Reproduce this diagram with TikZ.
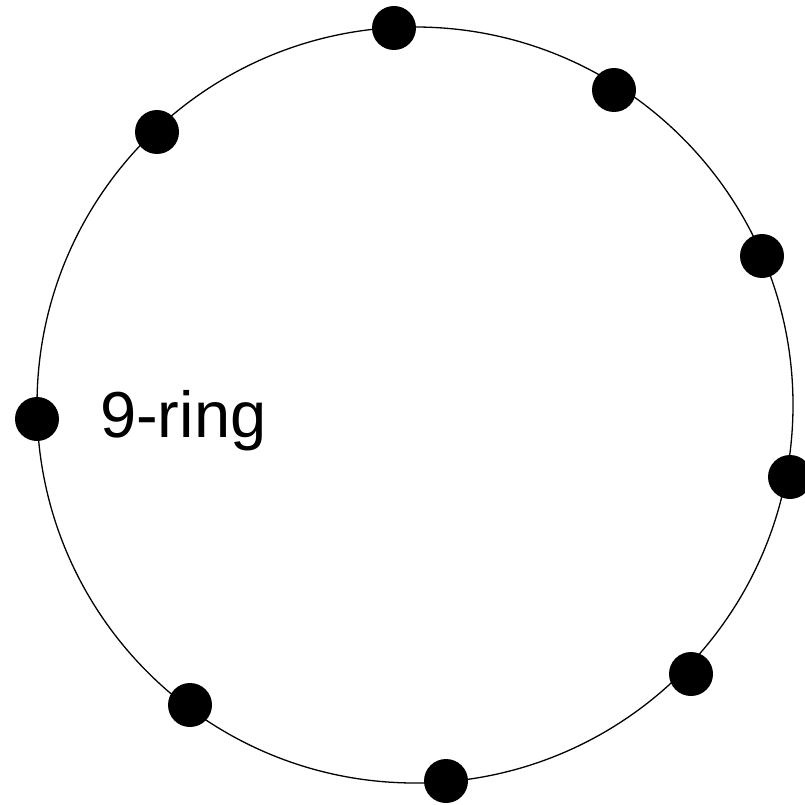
\documentclass[tikz,border=0pt]{standalone}
\usepackage{fontspec}
\setmainfont{Liberation Sans}
\usetikzlibrary{positioning}

\begin{document}
\begin{tikzpicture}[x=1pt,y=-1pt,
    ringdot/.style={circle,fill=black,inner sep=0pt,minimum size=44pt},
    every node/.style={font=\fontsize{65}{78}\selectfont}]
    \useasboundingbox (0,0) rectangle (804,805);
    \node[draw=none,inner sep=0pt,minimum size=756pt] (ring) at (415,405) {};
    \draw[line width=1.3pt] (ring.center) circle[radius=378];
    \node[ringdot] (p1) at (394,28) {};
    \node[ringdot] (p2) at (614,90) {};
    \node[ringdot] (p3) at (762,256) {};
    \node[ringdot] (p4) at (790,477) {};
    \node[ringdot] (p5) at (691,674) {};
    \node[ringdot] (p6) at (446,781) {};
    \node[ringdot] (p7) at (190,705) {};
    \node[ringdot] (p8) at (37,419) {};
    \node[ringdot] (p9) at (157,132) {};
    \node[anchor=base west,inner sep=0pt] (label) at (100,437) {9-ring};
\end{tikzpicture}
\end{document}
